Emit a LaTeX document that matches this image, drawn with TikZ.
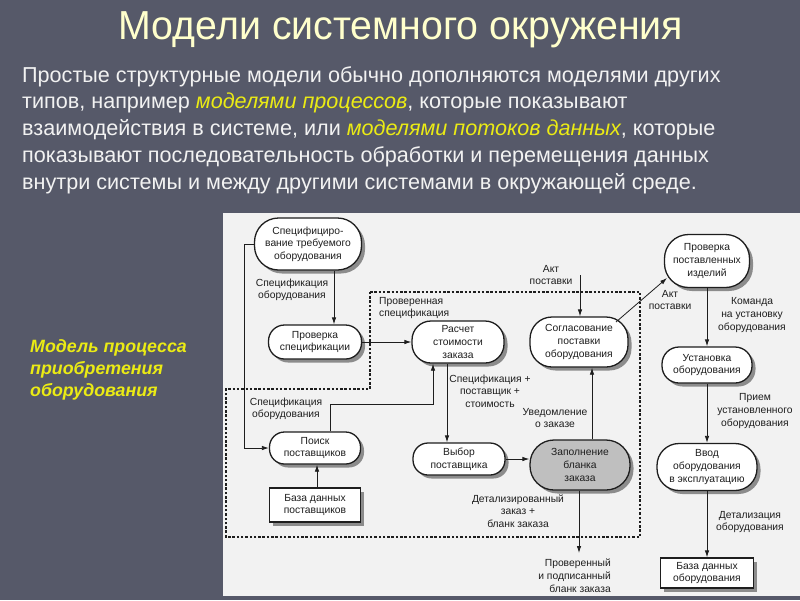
\documentclass[tikz,border=0pt]{standalone}
\usepackage{fontspec}
\setmainfont{Liberation Sans}
\newfontfamily\dfont{Liberation Sans}
\newfontfamily\ttlfont[FakeStretch=0.97]{Liberation Sans}
\usetikzlibrary{arrows.meta,shadows,calc}
\definecolor{bgc}{RGB}{86,89,105}
\definecolor{paper}{RGB}{242,242,242}
\definecolor{ttl}{RGB}{255,255,204}
\definecolor{hl}{RGB}{235,235,20}
\definecolor{ink}{RGB}{30,30,30}
\newcommand\dsz{\dfont\fontsize{10.3pt}{12.6pt}\selectfont}
\tikzset{
  proc/.style={draw=ink, line width=1.3pt, fill=white, rounded corners=#1,
    align=center, inner sep=0pt, font=\dsz, text=ink,
    drop shadow={shadow xshift=3.5pt, shadow yshift=-3.5pt, fill=black!45, opacity=1}},
  proc/.default=16pt,
  dbox/.style={draw=ink, line width=1.3pt, fill=white, align=center, inner sep=0pt,
    font=\dsz, text=ink,
    drop shadow={shadow xshift=3.5pt, shadow yshift=-3.5pt, fill=black!45, opacity=1}},
  lbl/.style={align=center, inner sep=0pt, font=\dsz, text=ink},
  arr/.style={draw=ink, line width=0.8pt, -{Latex[length=7pt,width=4.5pt]}},
  dotline/.style={draw=ink, line width=1.1pt, dash pattern=on 2.5pt off 1.8pt},
}
\begin{document}
\begin{tikzpicture}[x=1pt,y=-1pt]
\useasboundingbox (0,0) rectangle (800,600);
\fill[bgc] (0,0) rectangle (800,600);
% title and text
\node[text=ttl, font=\ttlfont\fontsize{40.5pt}{42pt}\selectfont, inner sep=0pt] (title) at (401,30) {Модели системного окружения};
\node[anchor=north west, text=white!95!black, align=left, inner sep=0pt,
      font=\fontsize{21.6pt}{26.8pt}\selectfont] (body) at (22,66)
 {Простые структурные модели обычно дополняются моделями других\\
  типов, например \textcolor{hl}{\itshape моделями процессов}, которые показывают\\
  взаимодействия в системе, или \textcolor{hl}{\itshape моделями потоков данных}, которые\\
  показывают последовательность обработки и перемещения данных\\
  внутри системы и между другими системами в окружающей среде.};
\node[anchor=west, text=hl, align=left, inner sep=0pt,
      font=\fontsize{17.8pt}{22pt}\selectfont\bfseries\itshape] (side) at (30,370)
 {Модель процесса\\приобретения\\оборудования};
% paper
\fill[paper] (223,213) rectangle (800,596);
\draw[dotline] (370,292) -- (640,292) -- (640,537) -- (226,537) -- (226,389) -- (370,389) -- cycle;
% nodes
\node[proc=24pt, minimum width=107pt, minimum height=52pt] (n1) at (308,244) {Специфициро-\\вание требуемого\\оборудования};
\node[proc=16pt, minimum width=93pt, minimum height=34pt] (n2) at (315,342) {Проверка\\спецификации};
\node[proc=19pt, minimum width=92pt, minimum height=42pt] (n3) at (458,342) {Расчет\\стоимости\\заказа};
\node[proc=22pt, minimum width=98pt, minimum height=50pt] (n4) at (579,342) {Согласование\\поставки\\оборудования};
\node[proc=24pt, minimum width=85pt, minimum height=53pt] (n5) at (707,261) {Проверка\\поставленных\\изделий};
\node[proc=17pt, minimum width=90pt, minimum height=36pt] (n6) at (707,365) {Установка\\оборудования};
\node[proc=22pt, minimum width=100pt, minimum height=47pt] (n7) at (707,467) {Ввод\\оборудования\\в эксплуатацию};
\node[dbox, minimum width=93pt, minimum height=30pt] (n8) at (707,573) {База данных\\оборудования};
\node[proc=15pt, minimum width=91pt, minimum height=32pt] (n9) at (315,448) {Поиск\\поставщиков};
\node[dbox, minimum width=91pt, minimum height=34pt] (n10) at (315,505) {База данных\\поставщиков};
\node[proc=15pt, minimum width=92pt, minimum height=32pt] (n11) at (459,459) {Выбор\\поставщика};
\node[proc=24pt, minimum width=100pt, minimum height=50pt, fill=black!25] (n12) at (580,465) {Заполнение\\бланка\\заказа};
% labels
\node[lbl] (l1) at (292,290) {Спецификация\\оборудования};
\node[lbl, anchor=west, align=left] (l2) at (379,308) {Проверенная\\спецификация};
\node[lbl] (l3) at (286,409) {Спецификация\\оборудования};
\node[lbl] (l4) at (490,391) {Спецификация +\\поставщик +\\стоимость};
\node[lbl] (l5) at (555,418) {Уведомление\\о заказе};
\node[lbl] (l6) at (551,275) {Акт\\поставки};
\node[lbl] (l7) at (670,300) {Акт\\поставки};
\node[lbl] (l8) at (752,315) {Команда\\на установку\\оборудования};
\node[lbl] (l9) at (755,411) {Прием\\установленного\\оборудования};
\node[lbl] (l10) at (750,522) {Детализация\\оборудования};
\node[lbl] (l11) at (518,511) {Детализированный\\заказ +\\бланк заказа};
\node[lbl, anchor=north east, align=right] (l12) at (611,559) {Проверенный\\и подписанный\\бланк заказа};
% helper coordinates
\coordinate (x1) at (334,0);
\coordinate (xl) at (244,0);
\coordinate (k1) at (330,404);
\coordinate (k2) at (433,404);
\coordinate (x3) at (447,0);
\coordinate (x4) at (592,0);
\coordinate (akt) at (580,275);
\coordinate (x9) at (317,0);
\coordinate (pend) at (579,553);
% connectors
\draw[arr] (n1.south -| x1) -- (n2.north -| x1);
\draw[arr] (n1.west) -- (n1.west -| xl) |- (n9.west);
\draw[arr] (n2.east) -- (n3.west);
\draw[arr] (n9.north -| k1) -- (k1) -- (k2) -- (n3.south -| k2);
\draw[arr] (n3.south -| x3) -- (n11.north -| x3);
\draw[arr] (n11.east) -- (n11.east -| n12.west);
\draw[arr] (n12.north -| x4) -- (n4.south -| x4);
\draw[arr] (akt) -- (n4.north -| akt);
\draw[arr] ($(n4)+(37,-20)$) -- ($(n5)+(-40,17)$);
\draw[arr] (n5.south) -- (n6.north);
\draw[arr] (n6.south) -- (n7.north);
\draw[arr] (n7.south) -- (n8.north);
\draw[arr] (n10.north -| x9) -- (n9.south -| x9);
\draw[arr] (n12.south -| pend) -- (pend);
\end{tikzpicture}
\end{document}
